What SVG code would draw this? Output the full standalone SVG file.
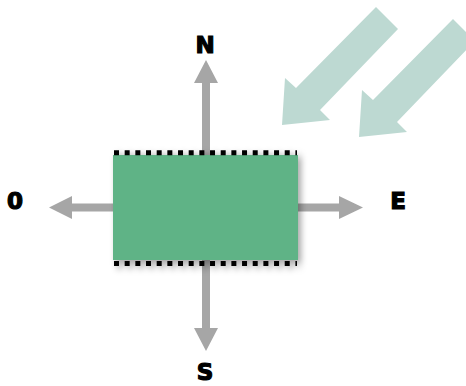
<svg xmlns="http://www.w3.org/2000/svg" width="466" height="386" viewBox="0 0 466 386">
<style>
.lbl{font-family:"DejaVu Sans",sans-serif;font-weight:bold;font-size:23px;fill:#000;stroke:#000;stroke-width:1.2;text-anchor:middle}
.arr{fill:#a6a6a6}
.sun{fill:#bdd9d2}
.dots{stroke:#000;stroke-width:5;stroke-dasharray:5 5.67;fill:none}
</style>
<defs>
<filter id="sh" x="-10%" y="-10%" width="130%" height="140%">
<feDropShadow dx="3" dy="3" stdDeviation="3" flood-color="#000" flood-opacity="0.35"/>
</filter>
<polygon id="sunArrow" points="376,7 398,29 320,110 330,120 282,125 285,78 296,88"/>
</defs>
<g id="sun-rays">
<use href="#sunArrow" class="sun"/>
<use href="#sunArrow" class="sun" transform="translate(77,12)"/>
</g>
<g id="connectors">
<path class="arr" d="M202,83 L210,83 L210,155 L202,155 Z M194,83 L206,60 L218,83 Z"/>
<path class="arr" d="M202,260 L210,260 L210,328 L202,328 Z M194,328 L206,351 L218,328 Z"/>
<path class="arr" d="M72,203.5 L113,203.5 L113,211.5 L72,211.5 Z M72,196 L49,207.5 L72,219 Z"/>
<path class="arr" d="M298,203.5 L339,203.5 L339,211.5 L298,211.5 Z M339,196 L363,207.5 L339,219 Z"/>
</g>
<g id="building" filter="url(#sh)">
<rect x="113" y="155" width="185" height="105" fill="#5fb386"/>
<line class="dots" x1="114" y1="152.7" x2="297" y2="152.7"/>
<line class="dots" x1="114" y1="263.6" x2="297" y2="263.6"/>
</g>
<g id="label-N"><text class="lbl" x="205" y="53">N</text></g>
<g id="label-S"><text class="lbl" x="205" y="380">S</text></g>
<g id="label-O"><text class="lbl" x="15" y="209">0</text></g>
<g id="label-E"><text class="lbl" x="398" y="209">E</text></g>
</svg>
